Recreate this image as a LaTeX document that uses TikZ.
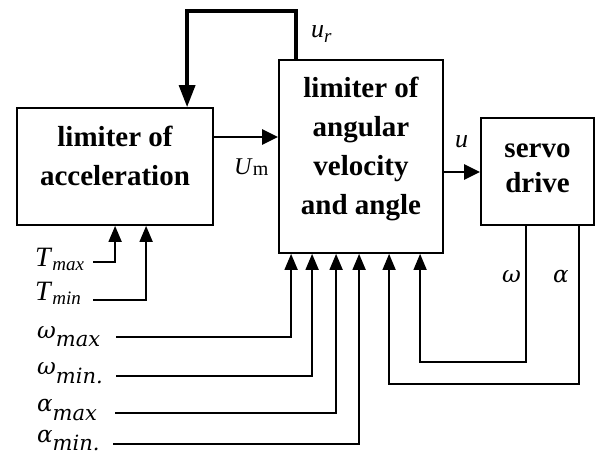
\documentclass[tikz,border=0pt]{standalone}
\usepackage{fontspec}
\setmainfont{Liberation Serif}
\newfontfamily\grk{DejaVu Serif}
\usetikzlibrary{arrows.meta}
\begin{document}
\begin{tikzpicture}[x=1pt,y=-1pt,
  blk/.style={draw, line width=1.8pt, inner sep=0pt},
  blktext/.style={font=\bfseries\fontsize{29}{39}\selectfont, align=center, inner sep=0pt},
  lbl/.style={anchor=base west, inner sep=0pt, font=\fontsize{26}{26}\selectfont},
  glbl/.style={anchor=base west, inner sep=0pt, font=\grk\itshape\fontsize{23}{23}\selectfont},
  inarr/.style={line width=1.8pt, -{Triangle[length=16pt,width=13pt]}},
  fbarr/.style={line width=1.5pt, -{Triangle[length=16pt,width=13pt]}},
  thickarr/.style={line width=2.8pt, -{Triangle[length=16pt,width=15pt]}},
  looparr/.style={line width=3.4pt, -{Triangle[length=22pt,width=16pt]}}
]
\useasboundingbox (0,0) rectangle (595,457);

% blocks
\node[blk, minimum width=196pt, minimum height=117pt] (acc) at (115,166.5) {};
\node[blk, minimum width=164pt, minimum height=193pt] (lim) at (361,156.5) {};
\node[blk, minimum width=113pt, minimum height=107pt] (srv) at (537.5,171.5) {};

\node[blktext] (acct) at (115,155.5) {limiter of\\acceleration};
\node[blktext] (limt) at (361,148.5) {limiter of\\angular\\velocity\\and angle};
\node[blktext, font=\bfseries\fontsize{29}{35}\selectfont] (srvt) at (537.5,168) {servo\\drive};

% main path
\draw[looparr] ([xshift=18pt]lim.north west) -- ++(0,-48) -| ([xshift=171pt]acc.north west);
\draw[thickarr] ([yshift=29.5pt]acc.east) -- ([yshift=29.5pt]acc.east -| lim.west);
\draw[thickarr] ([yshift=-15.5pt]lim.east) -- ([yshift=-15.5pt]lim.east -| srv.west);

% signal labels
\node[lbl] (urlab) at (311,38) {\textit{u}\raisebox{-5pt}{\fontsize{19}{19}\selectfont\textit{r}}};
\node[lbl, font=\fontsize{24}{24}\selectfont] (umlab) at (234,175) {\textit{U}\raisebox{-1pt}{\fontsize{20}{20}\selectfont m}};
\node[lbl] (ulab) at (455,148) {\textit{u}};
\node[glbl] (wlab) at (502,283) {ω};
\node[glbl] (alab) at (553,283) {α};

% inputs of acceleration limiter
\node[lbl, font=\fontsize{28}{28}\selectfont] (tmax) at (35,267) {\textit{T}\raisebox{-4pt}{\fontsize{19}{19}\selectfont\textit{max}}};
\node[lbl, font=\fontsize{28}{28}\selectfont] (tmin) at (35,301) {\textit{T}\raisebox{-4pt}{\fontsize{19}{19}\selectfont\textit{min}}};
\coordinate (tmaxs) at (93,262);
\coordinate (tmins) at (93,300);
\draw[inarr] (tmaxs) -| ([xshift=99pt]acc.south west);
\draw[inarr] (tmins) -| ([xshift=130pt]acc.south west);

% inputs of velocity/angle limiter
\node[glbl] (wmax) at (37,338) {ω\raisebox{-9pt}{\fontsize{21}{21}\selectfont max}};
\node[glbl] (wmin) at (37,374) {ω\raisebox{-9pt}{\fontsize{21}{21}\selectfont min.}};
\node[glbl] (amax) at (37,411) {α\raisebox{-9pt}{\fontsize{21}{21}\selectfont max}};
\node[glbl] (amin) at (37,442) {α\raisebox{-9pt}{\fontsize{21}{21}\selectfont min.}};
\coordinate (wmaxs) at (116,337);
\coordinate (wmins) at (116,376);
\coordinate (amaxs) at (115,413);
\coordinate (amins) at (113,444);
\draw[inarr] (wmaxs) -| ([xshift=13pt]lim.south west);
\draw[inarr] (wmins) -| ([xshift=34pt]lim.south west);
\draw[inarr] (amaxs) -| ([xshift=58pt]lim.south west);
\draw[inarr] (amins) -| ([xshift=81pt]lim.south west);

% feedback from servo drive
\draw[fbarr] ([xshift=46pt]srv.south west) -- ++(0,136) -| ([xshift=142pt]lim.south west);
\draw[fbarr] ([xshift=99pt]srv.south west) -- ++(0,158) -| ([xshift=111pt]lim.south west);
\end{tikzpicture}
\end{document}
